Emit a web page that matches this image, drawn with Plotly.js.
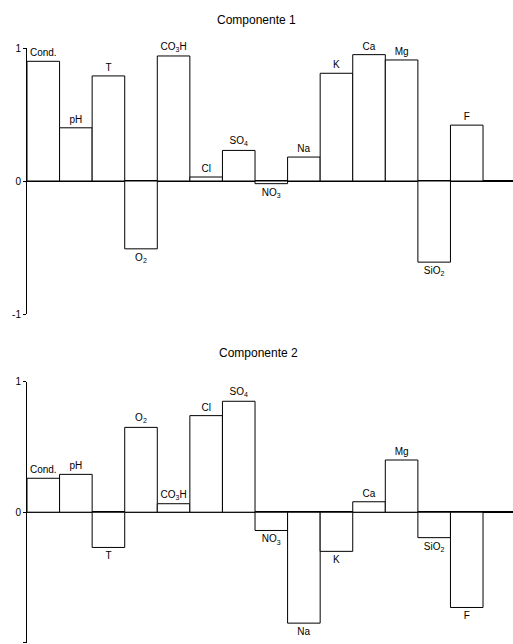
<!DOCTYPE html>
<html><head><meta charset="utf-8">
<script src="https://cdn.plot.ly/plotly-3.0.1.min.js"></script>
<style>html,body{margin:0;padding:0;background:#fff;}#c{width:513px;height:644px;}</style>
</head><body><div id="c"></div>
<script>
const categories = ["Cond.","pH","T","O2","CO3H","Cl","SO4","NO3","Na","K","Ca","Mg","SiO2","F"];
const labels = ["Cond.","pH","T","O<sub>2</sub>","CO<sub>3</sub>H","Cl","SO<sub>4</sub>","NO<sub>3</sub>","Na","K","Ca","Mg","SiO<sub>2</sub>","F"];
const comp1 = [0.90,0.40,0.79,-0.51,0.94,0.03,0.23,-0.02,0.18,0.81,0.95,0.91,-0.61,0.42];
const comp2 = [0.26,0.29,-0.27,0.65,0.065,0.74,0.85,-0.14,-0.85,-0.30,0.08,0.40,-0.195,-0.73];
const yTicks = [-1,0,1];
const titles = ["Componente 1","Componente 2"];

const fnt = {family:"Liberation Sans, Arial, sans-serif", color:"#000"};
function barTrace(vals, xa, ya){
  return {type:"bar", x:categories, y:vals, text:labels, textposition:"outside",
    textangle:0, constraintext:"none", cliponaxis:false, width:1,
    marker:{color:"#fff", line:{color:"#000", width:1}},
    outsidetextfont:Object.assign({size:10}, fnt),
    xaxis:xa, yaxis:ya, hoverinfo:"skip", showlegend:false};
}
const xax = {type:"category", range:[-0.5,14.42], showticklabels:false, showline:false,
  zeroline:false, showgrid:false, ticks:""};
const yax = {range:[-1,1], tickvals:yTicks, ticktext:yTicks.map(String), showgrid:false,
  zeroline:true, zerolinecolor:"#000", zerolinewidth:1.5, showline:true, linecolor:"#000",
  linewidth:1, ticks:"outside", ticklen:3, tickcolor:"#000", tickfont:Object.assign({size:10}, fnt)};
const layout = {
  width:513, height:644, margin:{l:0,r:0,t:0,b:0}, paper_bgcolor:"#fff", plot_bgcolor:"#fff",
  bargap:0, showlegend:false,
  xaxis:Object.assign({domain:[27/513,1], anchor:"y"}, xax),
  yaxis:Object.assign({domain:[(644-314)/644,(644-48)/644], anchor:"x"}, yax),
  xaxis2:Object.assign({domain:[27/513,1], anchor:"y2"}, xax),
  yaxis2:Object.assign({domain:[(644-642.7)/644,(644-381.7)/644], anchor:"x2"}, yax),
  annotations:[
    {text:titles[0], xref:"paper", yref:"paper", x:256/513, y:(644-20)/644, showarrow:false,
     xanchor:"center", yanchor:"middle", font:Object.assign({size:12}, fnt)},
    {text:titles[1], xref:"paper", yref:"paper", x:258/513, y:(644-353)/644, showarrow:false,
     xanchor:"center", yanchor:"middle", font:Object.assign({size:12}, fnt)}
  ]
};
Plotly.newPlot("c", [barTrace(comp1,"x","y"), barTrace(comp2,"x2","y2")], layout, {staticPlot:true});
</script></body></html>
